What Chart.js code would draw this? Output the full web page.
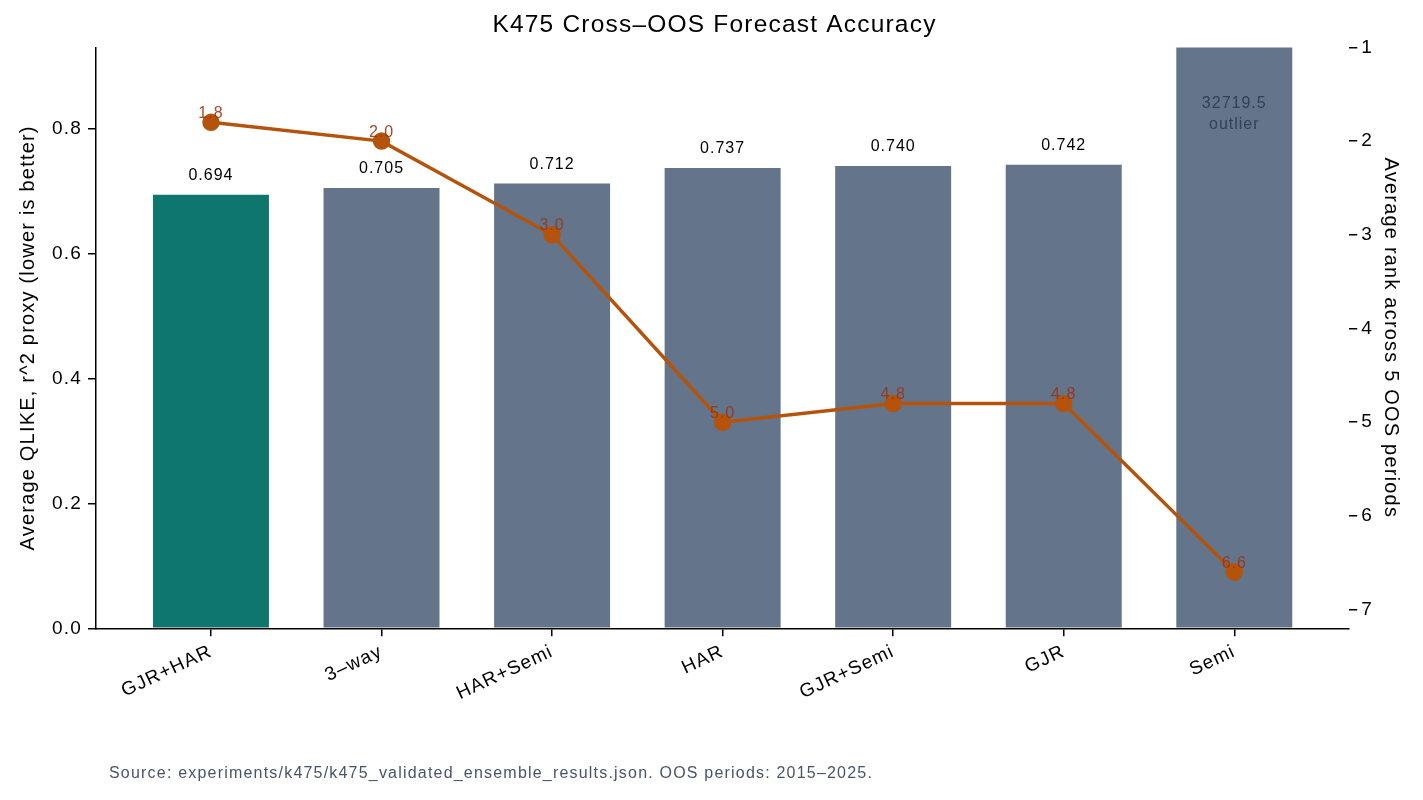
<!DOCTYPE html>
<html>
<head>
<meta charset="utf-8">
<script src="https://cdn.jsdelivr.net/npm/chart.js@4"></script>
<style>
  html, body { margin: 0; padding: 0; background: #fff; }
  #wrap { width: 1423px; height: 800px; }
</style>
</head>
<body>
<div id="wrap"><canvas id="chart" width="1423" height="800"></canvas></div>
<script>
// Data
var models = ["GJR+HAR", "3\u2013way", "HAR+Semi", "HAR", "GJR+Semi", "GJR", "Semi"];
var qlike = [0.694, 0.705, 0.712, 0.737, 0.740, 0.742, 32719.5];
var avgRank = [1.8, 2.0, 3.0, 5.0, 4.8, 4.8, 6.6];
var qlikeTicks = [0.0, 0.2, 0.4, 0.6, 0.8];
var rankTicks = [1, 2, 3, 4, 5, 6, 7];
var outlierLimit = 10;

var FONT = "'Liberation Sans', Arial, sans-serif";
var SPACING = "1.2px";
Chart.defaults.font.family = FONT;
Chart.defaults.color = "#000";

var barColors = models.map(function (m, i) { return i === 0 ? "#0f766e" : "#64748b"; });

// a bit of extra letter spacing, like the reference
var spacingPlugin = {
    id: "spacing",
    beforeUpdate: function (chart) { chart.ctx.letterSpacing = SPACING; },
    beforeDraw: function (chart) { chart.ctx.letterSpacing = SPACING; }
};

// labels over bars and points, plus footer text
var labelPlugin = {
    id: "labels",
    afterDatasetsDraw: function (chart) {
        var ctx = chart.ctx;
        var bars = chart.getDatasetMeta(0).data;
        var pts = chart.getDatasetMeta(1).data;
        ctx.save();
        ctx.letterSpacing = "1px";
        ctx.textAlign = "center";
        ctx.textBaseline = "middle";
        ctx.font = "16px " + FONT;
        bars.forEach(function (b, i) {
            if (qlike[i] > outlierLimit) {
                ctx.fillStyle = "#334155";
                ctx.fillText(qlike[i].toFixed(1), b.x, chart.chartArea.top + 56);
                ctx.fillText("outlier", b.x, chart.chartArea.top + 77);
            } else {
                ctx.fillStyle = "#000";
                ctx.fillText(qlike[i].toFixed(3), b.x, b.y - 19);
            }
        });
        ctx.fillStyle = "rgba(154,52,18,0.9)";
        pts.forEach(function (p, i) {
            ctx.fillText(avgRank[i].toFixed(1), p.x, p.y - 9);
        });
        ctx.textAlign = "left";
        ctx.fillStyle = "#475569";
        ctx.letterSpacing = "1.2px";
        ctx.font = "16px " + FONT;
        ctx.fillText("Source: experiments/k475/k475_validated_ensemble_results.json. OOS periods: 2015\u20132025.", 109, 774);
        ctx.restore();
    }
};

var tickGrid = { display: true, drawOnChartArea: false, drawTicks: true, tickLength: 8, color: "#000", lineWidth: 1.5 };

var chartEl = document.querySelector("#chart");
var chart = new Chart(chartEl, {
    data: {
        datasets: [{
            type: "bar",
            label: "Average QLIKE",
            data: qlike.map(function (v, i) { return { x: i, y: v }; }),
            backgroundColor: barColors,
            barPercentage: 0.68,
            categoryPercentage: 1.0,
            yAxisID: "y",
            order: 2
        }, {
            type: "line",
            label: "Average rank",
            data: avgRank.map(function (v, i) { return { x: i, y: v }; }),
            borderColor: "#b45309",
            backgroundColor: "#b45309",
            borderWidth: 3.5,
            pointRadius: 7,
            pointHoverRadius: 7,
            tension: 0,
            yAxisID: "y2",
            order: 1
        }]
    },
    options: {
        responsive: false,
        animation: false,
        layout: { padding: { left: 14, right: 8, top: 0, bottom: 91 } },
        plugins: {
            legend: { display: false },
            tooltip: { enabled: false },
            title: {
                display: true,
                text: "K475 Cross\u2013OOS Forecast Accuracy",
                font: { size: 24.5, weight: "normal" },
                color: "#000",
                padding: { top: 11, bottom: 7 }
            }
        },
        scales: {
            x: {
                type: "linear",
                offset: false,
                min: -0.674,
                max: 6.674,
                afterBuildTicks: function (scale) {
                    scale.ticks = models.map(function (m, i) { return { value: i }; });
                },
                ticks: {
                    callback: function (v) { return models[v]; },
                    font: { size: 19 },
                    color: "#000",
                    minRotation: 25,
                    maxRotation: 25,
                    autoSkip: false,
                    padding: 4
                },
                grid: Object.assign({}, tickGrid, { offset: false }),
                border: { display: true, color: "#000", width: 1.5 }
            },
            y: {
                position: "left",
                min: 0,
                max: 0.93,
                afterBuildTicks: function (scale) {
                    scale.ticks = qlikeTicks.map(function (v) { return { value: v }; });
                },
                ticks: {
                    callback: function (v) { return v.toFixed(1); },
                    font: { size: 19 },
                    color: "#000",
                    padding: 6
                },
                title: {
                    display: true,
                    text: "Average QLIKE, r^2 proxy (lower is better)",
                    font: { size: 20 },
                    color: "#000",
                    padding: { top: 2, bottom: 6 }
                },
                grid: tickGrid,
                border: { display: true, color: "#000", width: 1.5 }
            },
            y2: {
                position: "right",
                reverse: true,
                min: 1,
                max: 7.2,
                afterBuildTicks: function (scale) {
                    scale.ticks = rankTicks.map(function (v) { return { value: v }; });
                },
                ticks: {
                    callback: function (v) { return String(v); },
                    font: { size: 19 },
                    color: "#000",
                    padding: 4
                },
                title: {
                    display: true,
                    text: "Average rank across 5 OOS periods",
                    font: { size: 20 },
                    color: "#000",
                    padding: { top: 12, bottom: 2 }
                },
                grid: tickGrid,
                border: { display: false }
            }
        }
    },
    plugins: [spacingPlugin, labelPlugin]
});
</script>
</body>
</html>
